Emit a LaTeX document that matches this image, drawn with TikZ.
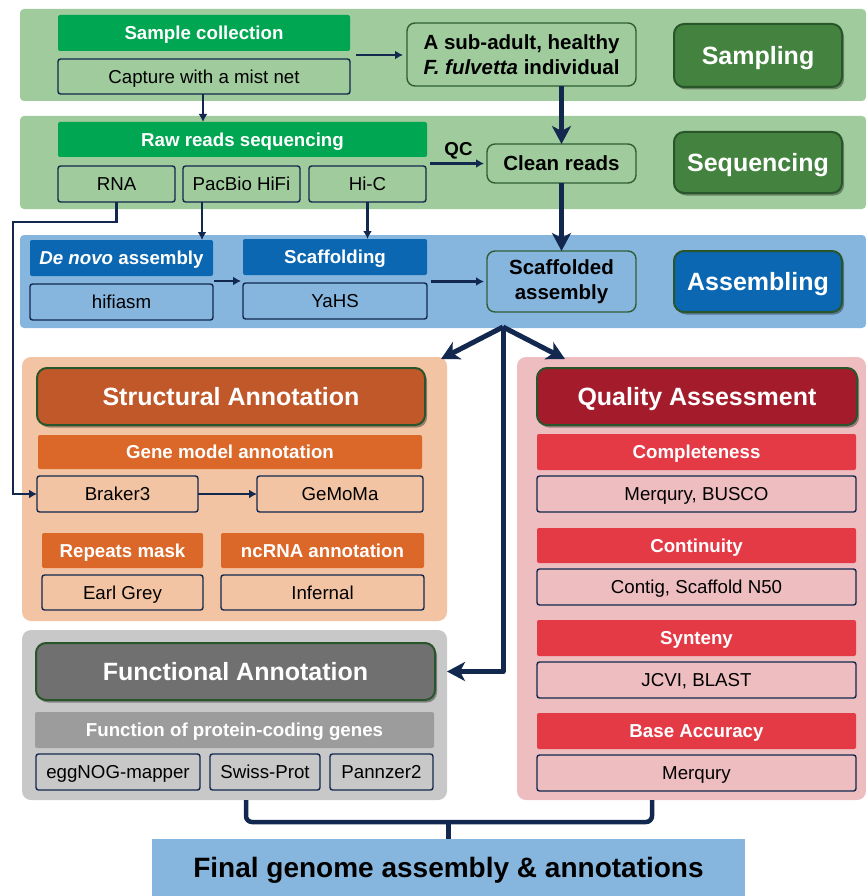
\documentclass[tikz,border=0pt]{standalone}
\usepackage{fontspec}
\setmainfont{Liberation Sans}
\usetikzlibrary{arrows.meta,shadows,calc}
\definecolor{bandG}{HTML}{A0CB9C}
\definecolor{hdrG}{HTML}{00A651}
\definecolor{labG}{HTML}{44833F}
\definecolor{labGb}{HTML}{29552A}
\definecolor{bandB}{HTML}{86B6DE}
\definecolor{hdrB}{HTML}{0B67B1}
\definecolor{peach}{HTML}{F3C4A3}
\definecolor{orDark}{HTML}{C0582A}
\definecolor{orHdr}{HTML}{DB6728}
\definecolor{pinkP}{HTML}{EEBDC0}
\definecolor{redDark}{HTML}{A41B2B}
\definecolor{redHdr}{HTML}{E43A46}
\definecolor{grayP}{HTML}{C8C8C8}
\definecolor{grayDark}{HTML}{707070}
\definecolor{grayMid}{HTML}{9C9C9C}
\definecolor{navy}{HTML}{12284E}
\definecolor{keyB}{HTML}{2F5E36}
\newcommand\fHdr{\fontsize{18.7}{22}\selectfont\bfseries}
\newcommand\fBx{\fontsize{18.7}{22}\selectfont}
\newcommand\fKey{\fontsize{20.5}{25}\selectfont\bfseries}
\newcommand\fBig{\fontsize{25}{29}\selectfont\bfseries}
\newcommand\fFinal{\fontsize{28}{32}\selectfont\bfseries}
\newcommand\boxat[7]{\node[#1,minimum width={(#5-#3)*1pt},minimum height={(#6-#4)*1pt}] (#2) at ({(#3+#5)/2},{(#4+#6)/2}) {#7};}
\begin{document}
\begin{tikzpicture}[x=1pt,y=-1pt,
  every node/.style={inner sep=0pt,outer sep=0pt},
  band/.style={fill=#1,rounded corners=4pt},
  panel/.style={fill=#1,rounded corners=9pt},
  hdr/.style={fill=#1,rounded corners=2pt,text=white,font=\fHdr,text height=13.6pt,text depth=0pt},
  tbox/.style={draw=navy,line width=1.4pt,rounded corners=2.5pt,font=\fBx,text height=13.6pt,text depth=0pt},
  keybox/.style={draw=keyB,line width=1.4pt,rounded corners=8pt,font=\fKey,align=center},
  oneline/.style={text height=14.8pt,text depth=0pt},
  biglab/.style={fill=#1,draw=labGb,line width=2pt,rounded corners=10pt,text=white,font=\fBig,
    text height=18pt,text depth=0pt,
    drop shadow={shadow xshift=2pt,shadow yshift=-2.5pt,opacity=0.35,fill=black}},
  thinarr/.style={draw=navy,line width=2.2pt,-{Latex[length=8pt,width=9pt]}},
  thickarr/.style={draw=navy,line width=5pt,line join=round,-{Stealth[length=18pt,width=19pt,inset=5pt]}},
  thickline/.style={draw=navy,line width=4.5pt,line join=round,rounded corners=6pt}
]
\useasboundingbox (0,0) rectangle (866,896);
% background bands and panels
\boxat{band=bandG}{bandS}{20}{9}{866}{101}{}
\boxat{band=bandG}{bandQ}{20}{116}{866}{209}{}
\boxat{band=bandB}{bandA}{20}{235}{866}{328}{}
\boxat{panel=peach}{panStruct}{22}{357}{447}{621}{}
\boxat{panel=pinkP}{panQual}{517}{357}{866}{800}{}
\boxat{panel=grayP}{panFunc}{22}{630}{447}{800}{}
\boxat{fill=bandB,text height=20pt,text depth=0pt}{final}{152}{839}{745}{896}{\fFinal Final genome assembly \& annotations}
% Sampling
\boxat{hdr=hdrG}{hSample}{58}{15}{350}{51}{Sample collection}
\boxat{tbox}{bCapture}{58}{59}{350}{94}{Capture with a mist net}
\boxat{keybox}{bIndiv}{407}{23}{636}{86}{A sub-adult, healthy\\\textit{F. fulvetta} individual}
\boxat{biglab=labG}{lSampling}{674}{24}{842}{87}{Sampling}
% Sequencing
\boxat{hdr=hdrG}{hRaw}{58}{122}{427}{157}{Raw reads sequencing}
\boxat{tbox}{bRNA}{58}{166}{175}{202}{RNA}
\boxat{tbox}{bPac}{183}{166}{300}{202}{PacBio HiFi}
\boxat{tbox}{bHiC}{309}{166}{426}{202}{Hi-C}
\boxat{keybox,oneline}{bClean}{487}{144}{636}{183}{Clean reads}
\boxat{biglab=labG}{lSeq}{674}{132}{842}{193}{Sequencing}
% Assembling
\boxat{hdr=hdrB}{hDenovo}{30}{240}{213}{276}{\textit{De novo} assembly}
\boxat{tbox}{bHifi}{30}{284}{213}{320}{hifiasm}
\boxat{hdr=hdrB}{hScaf}{243}{239}{427}{275}{Scaffolding}
\boxat{tbox}{bYahs}{243}{283}{427}{319}{YaHS}
\boxat{keybox}{bScafAsm}{487}{251}{636}{312}{Scaffolded\\assembly}
\boxat{biglab=hdrB}{lAsm}{674}{251}{842}{312}{Assembling}
% Structural annotation
\boxat{biglab=orDark}{hStruct}{37}{368}{425}{425}{Structural Annotation}
\boxat{hdr=orHdr}{hGene}{38}{435}{422}{469}{Gene model annotation}
\boxat{tbox}{bBraker}{37}{476}{198}{512}{Braker3}
\boxat{tbox}{bGemoma}{257}{476}{423}{512}{GeMoMa}
\boxat{hdr=orHdr}{hRepeat}{42}{533}{203}{568}{Repeats mask}
\boxat{hdr=orHdr}{hNcrna}{221}{533}{424}{568}{ncRNA annotation}
\boxat{tbox}{bEarl}{42}{575}{203}{610}{Earl Grey}
\boxat{tbox}{bInfernal}{221}{575}{424}{610}{Infernal}
% Quality assessment
\boxat{biglab=redDark}{hQual}{537}{368}{857}{425}{Quality Assessment}
\boxat{hdr=redHdr}{hComp}{537}{434}{856}{470}{Completeness}
\boxat{tbox}{bMerBus}{537}{476}{856}{512}{Merqury, BUSCO}
\boxat{hdr=redHdr}{hCont}{537}{528}{856}{563}{Continuity}
\boxat{tbox}{bContig}{537}{569}{856}{605}{Contig, Scaffold N50}
\boxat{hdr=redHdr}{hSyn}{537}{620}{856}{656}{Synteny}
\boxat{tbox}{bJcvi}{537}{662}{856}{698}{JCVI, BLAST}
\boxat{hdr=redHdr}{hBase}{537}{713}{856}{749}{Base Accuracy}
\boxat{tbox}{bMerq}{537}{755}{856}{791}{Merqury}
% Functional annotation
\boxat{biglab=grayDark}{hFunc}{36}{643}{435}{700}{Functional Annotation}
\boxat{hdr=grayMid}{hProt}{35}{712}{434}{748}{Function of protein-coding genes}
\boxat{tbox}{bEgg}{36}{754}{200}{790}{eggNOG-mapper}
\boxat{tbox}{bSwiss}{210}{754}{320}{790}{Swiss-Prot}
\boxat{tbox}{bPann}{330}{754}{433}{790}{Pannzer2}
% coordinates for connector ends
\coordinate (capOut) at (356,55);
\coordinate (qcIn) at (430,163.5);
\coordinate (hifiOut) at (214,281);
\coordinate (yahsOut) at (431,281.5);
\coordinate (rnaTurn) at (116.5,222);
\coordinate (rnaLeft) at (13,222);
\coordinate (pacOut) at (202,202);
\coordinate (fork) at (503,327);
\coordinate (forkL) at (441,359);
\coordinate (forkR) at (565,359);
\coordinate (forkD) at (503,671.5);
\coordinate (brL) at (246,800);
\coordinate (brR) at (652,800);
\coordinate (brM) at (448.5,822);
% connectors
\draw[thinarr,shorten >=4pt] (capOut) -- (capOut -| bIndiv.west);
\draw[thinarr] (bCapture.south -| 203,94) -- (203,122);
\draw[thickarr] (bClean.north |- bIndiv.south) -- (bClean.north);
\draw[thinarr,shorten >=3pt] (qcIn) -- node[above=4pt,font=\fHdr]{QC} (bClean.west);
\draw[thickarr] (bClean.south) -- (bScafAsm.north);
\draw[thinarr] (pacOut) -- (pacOut |- hDenovo.north);
\draw[thinarr] (bHiC.south) -- (bHiC.south |- hScaf.north);
\draw[thinarr,shorten >=2pt] (hifiOut) -- (hifiOut -| bYahs.west);
\draw[thinarr,shorten >=3pt] (yahsOut) -- (bScafAsm.west);
\draw[thinarr] (bRNA.south) -- (rnaTurn) -- (rnaLeft) -- (rnaLeft |- bBraker.west) -- (bBraker.west);
\draw[thinarr] (bBraker.east) -- (bGemoma.west);
\draw[thickarr] (fork) -- (forkL);
\draw[thickarr] (fork) -- (forkR);
\draw[thickarr] (fork) -- (forkD) -- (forkD -| panFunc.east);
\draw[thickline] (brL) |- (brM) -| (brR);
\draw[thickline] (brM) -- (final.north);
\end{tikzpicture}
\end{document}
